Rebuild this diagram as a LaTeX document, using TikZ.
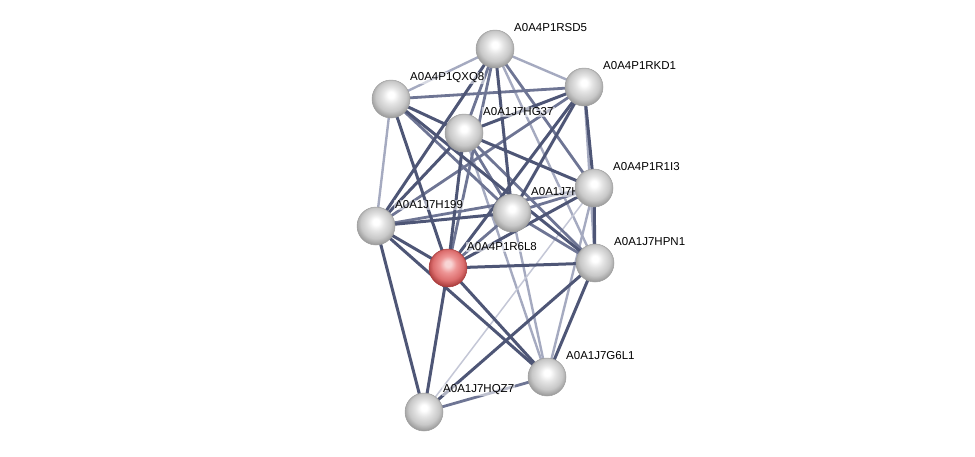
\documentclass[tikz,border=0pt]{standalone}
\usepackage{fontspec}
\setmainfont{Liberation Sans}
\definecolor{edD}{RGB}{78,86,118}
\definecolor{edM}{RGB}{110,117,148}
\definecolor{edL}{RGB}{165,170,192}
\definecolor{edT}{RGB}{196,199,214}
\definecolor{gA}{RGB}{228,228,228}
\definecolor{gB}{RGB}{200,200,200}
\definecolor{gC}{RGB}{155,155,155}
\definecolor{gD}{RGB}{185,185,185}
\definecolor{rA}{RGB}{238,150,150}
\definecolor{rB}{RGB}{220,110,110}
\definecolor{rC}{RGB}{170,60,60}
\definecolor{rD}{RGB}{200,100,100}
\pgfdeclareradialshading{sballg}{\pgfpoint{0bp}{6bp}}{color(0bp)=(white); color(4bp)=(white); color(11bp)=(gA); color(20bp)=(gB); color(27bp)=(gC); color(31bp)=(gD); color(50bp)=(gD)}
\pgfdeclareradialshading{sballr}{\pgfpoint{0bp}{6bp}}{color(0bp)=(white!60!rA); color(4bp)=(white!60!rA); color(11bp)=(rA); color(20bp)=(rB); color(27bp)=(rC); color(31bp)=(rD); color(50bp)=(rD)}
\tikzset{
  prot/.style={circle, minimum size=38pt, inner sep=0pt, shading=sballg, draw=gray!75, line width=0.5pt},
  protred/.style={prot, shading=sballr, draw=rC},
  lab/.style={anchor=west, inner sep=1pt, font=\fontsize{11.5}{13}\selectfont, fill=white, fill opacity=0.55, text opacity=1},
  ed/.style={draw=edD, line width=3pt},
  em/.style={draw=edM, line width=2.8pt},
  el/.style={draw=edL, line width=2.4pt},
  et/.style={draw=edT, line width=1.5pt}
}
\begin{document}
\begin{tikzpicture}[x=1pt,y=-1pt]
\useasboundingbox (0,0) rectangle (975,456);
% coordinates of nodes
\coordinate (SD5) at (495,49);
\coordinate (KD1) at (584,87);
\coordinate (QX8) at (391,99);
\coordinate (G37) at (464,133);
\coordinate (RI3) at (594,188);
\coordinate (HID) at (512,213);
\coordinate (H199) at (376,226);
\coordinate (R6) at (448,268);
\coordinate (PN1) at (595,263);
\coordinate (G6) at (547,377);
\coordinate (QZ7) at (424,412);
% edges
\draw[el] (SD5) -- (QX8);
\draw[el] (SD5) -- (KD1);
\draw[el] (SD5) -- (PN1);
\draw[el] (QX8) -- (H199);
\draw[el] (KD1) -- (PN1);
\draw[el] (G37) -- (G6);
\draw[el] (RI3) -- (G6);
\draw[el] (HID) -- (G6);
\draw[et] (RI3) -- (QZ7);
\draw[em] (SD5) -- (G37);
\draw[em] (SD5) -- (R6);
\draw[em] (SD5) -- (RI3);
\draw[em] (QX8) -- (KD1);
\draw[em] (QX8) -- (HID);
\draw[em] (G37) -- (HID);
\draw[em] (G37) -- (PN1);
\draw[em] (KD1) -- (H199);
\draw[em] (RI3) -- (HID);
\draw[em] (RI3) -- (H199);
\draw[em] (HID) -- (R6);
\draw[em] (HID) -- (PN1);
\draw[em] (G6) -- (QZ7);
\draw[ed] (SD5) -- (H199);
\draw[ed] (SD5) -- (HID);
\draw[ed] (QX8) -- (G37);
\draw[ed] (QX8) -- (R6);
\draw[ed] (QX8) -- (PN1);
\draw[ed] (G37) -- (KD1);
\draw[ed] (G37) -- (RI3);
\draw[ed] (G37) -- (H199);
\draw[ed] (G37) -- (R6);
\draw[ed] (KD1) -- (RI3);
\draw[ed] (KD1) -- (HID);
\draw[ed] (KD1) -- (R6);
\draw[ed] (RI3) -- (PN1);
\draw[ed] (RI3) -- (R6);
\draw[ed] (HID) -- (H199);
\draw[ed] (H199) -- (R6);
\draw[ed] (H199) -- (QZ7);
\draw[ed] (H199) -- (G6);
\draw[ed] (R6) -- (PN1);
\draw[ed] (R6) -- (QZ7);
\draw[ed] (R6) -- (G6);
\draw[ed] (PN1) -- (G6);
\draw[ed] (PN1) -- (QZ7);
% labels
\node[lab] (lSD5) at (513,28) {A0A4P1RSD5};
\node[lab] (lKD1) at (602,66) {A0A4P1RKD1};
\node[lab] (lQX8) at (409,78) {A0A4P1QXQ8};
\node[lab] (lG37) at (482,112) {A0A1J7HG37};
\node[lab] (lRI3) at (612,167) {A0A4P1R1I3};
\node[lab] (lHID) at (530,192) {A0A1J7H};
\node[lab] (lH199) at (394,205) {A0A1J7H199};
\node[lab] (lR6) at (466,247) {A0A4P1R6L8};
\node[lab] (lPN1) at (613,242) {A0A1J7HPN1};
\node[lab] (lG6) at (565,356) {A0A1J7G6L1};
\node[lab] (lQZ7) at (442,390) {A0A1J7HQZ7};
% nodes
\node[prot] (nSD5) at (SD5) {};
\node[prot] (nKD1) at (KD1) {};
\node[prot] (nQX8) at (QX8) {};
\node[prot] (nG37) at (G37) {};
\node[prot] (nHID) at (HID) {};
\node[prot] (nRI3) at (RI3) {};
\node[prot] (nH199) at (H199) {};
\node[protred] (nR6) at (R6) {};
\node[prot] (nPN1) at (PN1) {};
\node[prot] (nG6) at (G6) {};
\node[prot] (nQZ7) at (QZ7) {};
\end{tikzpicture}
\end{document}
